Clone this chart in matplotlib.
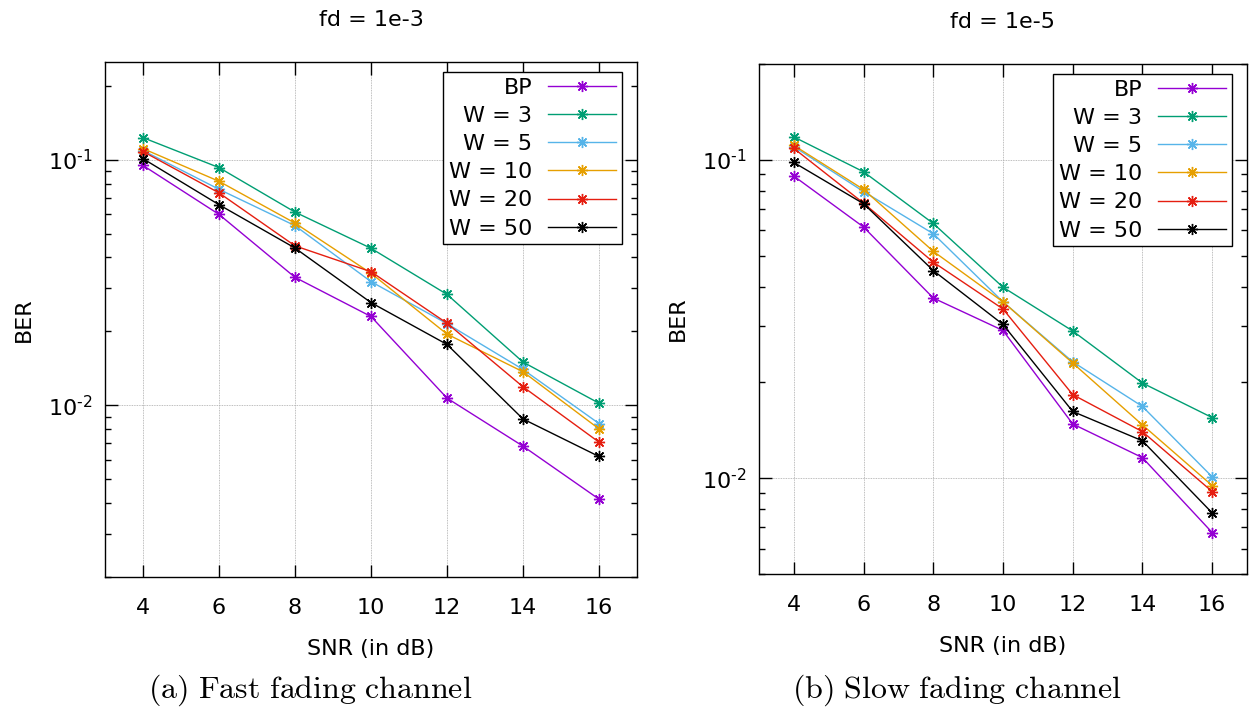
import matplotlib
matplotlib.use("Agg")
import matplotlib.pyplot as plt
from matplotlib.ticker import FixedLocator, FixedFormatter, LogLocator, NullFormatter

# SNR values (x axis)
snr = [4, 6, 8, 10, 12, 14, 16]

# fast fading channel, fd = 1e-3
bp_fast = [0.0948, 0.0599, 0.0332, 0.0230, 0.0107, 0.00682, 0.00415]
w3_fast = [0.123, 0.0929, 0.0612, 0.0436, 0.0283, 0.0150, 0.0102]
w5_fast = [0.109, 0.0758, 0.0539, 0.0319, 0.0215, 0.0140, 0.00843]
w10_fast = [0.111, 0.0817, 0.0552, 0.0345, 0.0195, 0.0137, 0.00802]
w20_fast = [0.108, 0.0733, 0.0446, 0.0350, 0.0216, 0.0119, 0.00708]
w50_fast = [0.101, 0.0656, 0.0437, 0.0262, 0.0177, 0.00880, 0.00619]

# slow fading channel, fd = 1e-5
bp_slow = [0.0889, 0.0615, 0.0368, 0.0291, 0.0148, 0.0116, 0.00675]
w3_slow = [0.118, 0.0917, 0.0631, 0.0398, 0.0290, 0.0199, 0.0155]
w5_slow = [0.110, 0.0795, 0.0586, 0.0358, 0.0232, 0.0168, 0.0101]
w10_slow = [0.111, 0.0807, 0.0516, 0.0358, 0.0230, 0.0147, 0.00948]
w20_slow = [0.1086, 0.0731, 0.0477, 0.0340, 0.0183, 0.0140, 0.00908]
w50_slow = [0.0981, 0.0728, 0.0449, 0.0304, 0.0162, 0.0131, 0.00778]

labels = ["BP", "W = 3", "W = 5", "W = 10", "W = 20", "W = 50"]
colors = ["#9400d3", "#009e73", "#56b4e9", "#e69f00", "#e51e10", "#000000"]

ytick_vals = [0.1, 0.01]
ytick_labels = [r"$10^{\text{-}1}$", r"$10^{\text{-}2}$"]

titles = ["fd = 1e-3", "fd = 1e-5"]
captions = [r"$\mathrm{(a)\ Fast\ fading\ channel}$", r"$\mathrm{(b)\ Slow\ fading\ channel}$"]

plt.rcParams["font.family"] = ["DejaVu Sans"]
plt.rcParams["font.size"] = 16

fig = plt.figure(figsize=(12.51, 7.09), dpi=100)
W, H = 1251, 709


def make_axes(l, t, r, b):
    return fig.add_axes([l / W, 1 - b / H, (r - l) / W, (b - t) / H])


ax1 = make_axes(105, 62, 637, 577)
ax2 = make_axes(759, 64, 1247, 574)

panels = [
    (ax1, [bp_fast, w3_fast, w5_fast, w10_fast, w20_fast, w50_fast], (0.002, 0.25), 532, 515),
    (ax2, [bp_slow, w3_slow, w5_slow, w10_slow, w20_slow, w50_slow], (0.005, 0.2), 488, 510),
]

for i, (ax, series, ylim, aw, ah) in enumerate(panels):
    for vals, lab, col in zip(series, labels, colors):
        ax.plot(snr, vals, color=col, lw=1.0, marker=(8, 2, 0), markersize=8,
                markeredgewidth=1.0, label=lab)
    ax.set_yscale("log")
    ax.set_xlim(3, 17)
    ax.set_ylim(*ylim)
    ax.xaxis.set_major_locator(FixedLocator(snr))
    ax.yaxis.set_major_locator(FixedLocator(ytick_vals))
    ax.yaxis.set_major_formatter(FixedFormatter(ytick_labels))
    ax.yaxis.set_minor_locator(LogLocator(base=10, subs=range(2, 10)))
    ax.yaxis.set_minor_formatter(NullFormatter())
    ax.grid(True, which="major", color="#a8a8a8", lw=0.6, ls=(0, (1, 1)))
    ax.tick_params(which="both", direction="in", top=True, right=True, width=1.0)
    ax.tick_params(which="major", length=9, labelsize=16)
    ax.tick_params(which="minor", length=4)
    ax.tick_params(axis="x", pad=15)
    ax.tick_params(axis="y", pad=9)
    for sp in ax.spines.values():
        sp.set_linewidth(1.0)
    ax.set_title(titles[i], fontsize=16, pad=26)
    ax.set_xlabel("SNR (in dB)", fontsize=16, labelpad=15)
    ax.set_ylabel("BER", fontsize=16, labelpad=10)

    leg = ax.legend(loc="upper right", bbox_to_anchor=(1 - 15 / aw, 1 - 10 / ah),
                    borderaxespad=0, markerfirst=False, fontsize=16, fancybox=False,
                    framealpha=1, edgecolor="black", handlelength=3.1,
                    handletextpad=0.7, labelspacing=0.37, borderpad=0.25)
    leg.get_frame().set_linewidth(1.0)
    for col in leg._legend_handle_box.get_children():
        col.align = "right"

    fig.text((310 if i == 0 else 957) / W, 1 - 690 / H, captions[i],
             math_fontfamily="cm", fontsize=23, ha="center", va="center")

fig.savefig("out.png", dpi=100)
